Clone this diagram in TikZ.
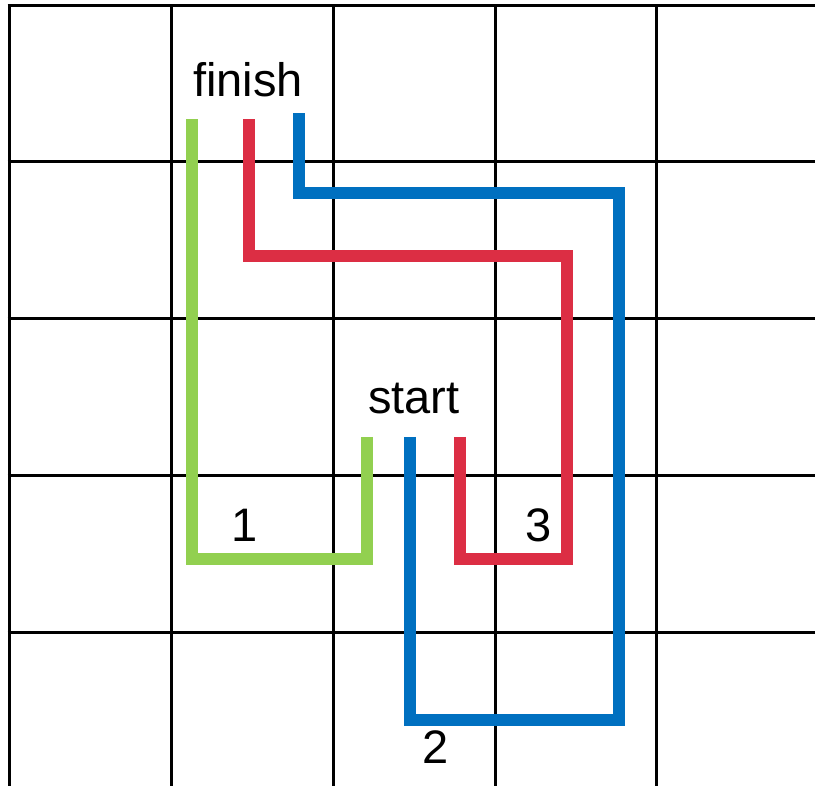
\documentclass[tikz,border=0pt]{standalone}
\usepackage{fontspec}
\setmainfont{Liberation Sans}
\definecolor{pgreen}{RGB}{146,208,80}
\definecolor{pred}{RGB}{220,46,68}
\definecolor{pblue}{RGB}{0,112,192}
\begin{document}
\begin{tikzpicture}[x=1pt,y=-1pt,
  gridline/.style={black,line width=3pt},
  route/.style={line width=11.5pt,line join=miter,line cap=butt},
  lbl/.style={inner sep=0pt,anchor=base,font=\fontsize{47}{56}\selectfont}]
\useasboundingbox (0,0) rectangle (815,786);
\fill[white] (0,0) rectangle (815,786);
% grid
\foreach \x in {9,171,333,495,656} \draw[gridline] (\x,4.5) -- (\x,786);
\foreach \y in {6,162,319,476,632} \draw[gridline] (7.5,\y) -- (815,\y);
% endpoints
\coordinate (gS) at (367,437);
\coordinate (gF) at (192,119);
\coordinate (rS) at (460,437);
\coordinate (rF) at (249,119);
\coordinate (bS) at (410,437);
\coordinate (bF) at (299,113);
% routes
\draw[route,pgreen] (gS) -- (367,559) -- (192,559) -- (gF);
\draw[route,pred] (rS) -- (460,559) -- (567,559) -- (567,256) -- (249,256) -- (rF);
\draw[route,pblue] (bS) -- (410,720) -- (619,720) -- (619,193) -- (299,193) -- (bF);
% labels
\node[lbl] (finish) at (248,97) {finish};
\node[lbl] (start) at (414,414) {start};
\node[lbl] (one) at (245,542) {1};
\node[lbl] (three) at (539,542) {3};
\node[lbl] (two) at (436,763) {2};
\end{tikzpicture}
\end{document}
